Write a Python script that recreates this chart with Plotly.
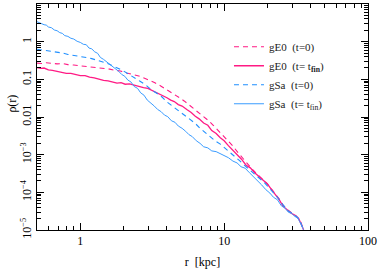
import numpy as np
import plotly.graph_objects as go

# ---- data (rho given as log10 values) ----
gsa_fin_r = [0.50,0.52,0.54,0.56,0.58,0.60,0.63,0.66,0.69,0.72,0.75,0.78,0.82,0.86,0.90,0.95,1.00,1.05,1.10,1.15,1.20,1.26,1.32,1.38,1.45,1.52,1.60,1.68,1.76,1.85,1.94,2.04,2.14,2.25,2.37,2.50,2.63,2.77,2.92,3.09,3.27,3.45,3.65,3.85,4.05,4.30,4.55,4.80,5.10,5.40,5.70,6.00,6.40,6.80,7.20,7.70,8.20,8.80,9.40,10.0,10.7,11.5,12.3,13.1,14.0,15.0,16.0,17.0,18.2,19.5,20.8,22.0,23.5,25.0,26.5,28.0,29.5,31.0,32.5,33.5,34.5,35.5,36.5]
gsa_fin_log10_rho = [0.53,0.50,0.49,0.45,0.44,0.39,0.37,0.31,0.29,0.24,0.22,0.16,0.14,0.09,0.07,0.01,-0.02,-0.07,-0.08,-0.17,-0.19,-0.27,-0.31,-0.42,-0.47,-0.53,-0.61,-0.66,-0.74,-0.79,-0.87,-0.92,-1.02,-1.07,-1.19,-1.24,-1.36,-1.42,-1.55,-1.62,-1.71,-1.80,-1.86,-1.95,-1.99,-2.10,-2.14,-2.24,-2.30,-2.38,-2.47,-2.52,-2.63,-2.70,-2.79,-2.82,-2.90,-2.92,-2.98,-3.04,-3.08,-3.17,-3.22,-3.32,-3.36,-3.48,-3.58,-3.70,-3.80,-3.93,-4.02,-4.13,-4.20,-4.36,-4.42,-4.53,-4.56,-4.64,-4.68,-4.78,-4.86,-4.98,-5.12]

ge0_fin_r = [0.50,0.53,0.56,0.60,0.64,0.69,0.74,0.80,0.86,0.92,1.00,1.08,1.16,1.25,1.35,1.45,1.56,1.68,1.80,1.92,2.05,2.20,2.37,2.55,2.75,2.95,3.10,3.30,3.50,3.75,4.00,4.25,4.50,4.80,5.10,5.50,5.90,6.30,6.70,7.20,7.70,8.20,8.80,9.40,10.0,10.7,11.5,12.3,13.2,14.2,15.2,16.3,17.5,18.7,20.0,21.3,22.7,24.2,25.6,27.0,28.5,30.0,31.6,33.0,34.2,35.3,36.5]
ge0_fin_log10_rho = [-0.69,-0.71,-0.70,-0.75,-0.76,-0.79,-0.81,-0.84,-0.84,-0.87,-0.90,-0.90,-0.94,-0.96,-1.00,-1.03,-1.04,-1.07,-1.10,-1.09,-1.13,-1.12,-1.16,-1.18,-1.22,-1.24,-1.28,-1.33,-1.37,-1.44,-1.49,-1.55,-1.59,-1.67,-1.71,-1.80,-1.88,-1.98,-2.05,-2.16,-2.22,-2.36,-2.44,-2.55,-2.63,-2.76,-2.88,-2.98,-3.12,-3.28,-3.35,-3.48,-3.58,-3.68,-3.78,-3.92,-4.05,-4.20,-4.36,-4.45,-4.52,-4.58,-4.62,-4.70,-4.82,-4.95,-5.12]

ge0_t0_r = [0.50,0.54,0.58,0.63,0.69,0.75,0.82,0.90,1.00,1.10,1.20,1.31,1.45,1.60,1.75,1.90,2.10,2.30,2.55,2.80,3.05,3.30,3.60,3.90,4.20,4.55,4.90,5.30,5.70,6.20,6.70,7.20,7.80,8.40,9.10,9.80,10.6,11.5,12.5,13.5,14.6,15.8,17.0,18.4,19.7,21.2,22.7,24.2,25.6,27.0,28.5,30.0,31.6,33.0,34.2,35.3,36.3]
ge0_t0_log10_rho = [-0.57,-0.58,-0.56,-0.58,-0.59,-0.58,-0.61,-0.62,-0.64,-0.64,-0.66,-0.68,-0.70,-0.73,-0.76,-0.78,-0.83,-0.86,-0.91,-0.97,-1.03,-1.09,-1.17,-1.25,-1.33,-1.41,-1.49,-1.58,-1.68,-1.78,-1.88,-1.99,-2.10,-2.22,-2.36,-2.48,-2.62,-2.77,-2.95,-3.10,-3.27,-3.40,-3.52,-3.64,-3.75,-3.90,-4.03,-4.18,-4.33,-4.44,-4.50,-4.57,-4.62,-4.70,-4.80,-4.94,-5.08]

gsa_t0_r = [0.50,0.54,0.58,0.63,0.69,0.75,0.82,0.90,1.00,1.10,1.20,1.31,1.42,1.55,1.70,1.85,2.00,2.20,2.40,2.60,2.85,3.10,3.40,3.70,4.00,4.30,4.65,5.00,5.40,5.85,6.30,6.80,7.40,8.00,8.70,9.40,10.2,11.0,11.8,12.8,13.8,15.0,16.3,17.6,19.0,20.5,22.0,23.5,25.0,26.5,28.0,29.5,31.0,32.5,33.8,35.0,36.0]
gsa_t0_log10_rho = [-0.20,-0.22,-0.22,-0.26,-0.28,-0.30,-0.34,-0.36,-0.39,-0.42,-0.45,-0.49,-0.53,-0.58,-0.65,-0.71,-0.78,-0.88,-0.98,-1.05,-1.15,-1.27,-1.37,-1.47,-1.60,-1.69,-1.79,-1.86,-1.96,-2.06,-2.17,-2.30,-2.42,-2.53,-2.64,-2.72,-2.83,-2.94,-3.05,-3.16,-3.28,-3.40,-3.52,-3.63,-3.74,-3.88,-4.00,-4.13,-4.28,-4.40,-4.50,-4.55,-4.61,-4.67,-4.78,-4.92,-5.05]

y_tickvals = [10, 1, 0.1, 0.01, 1e-3, 1e-4, 1e-5]
y_ticktext = ["10", "1", "0.1", "0.01", "10<sup>−3</sup>", "10<sup>−4</sup>", "10<sup>−5</sup>"]
x_tickvals = [1, 10, 100]
x_ticktext = ["1", "10", "100"]

PINK = "#ff1a84"
BLUE = "#1f8fff"
LBLUE = "#3a9cff"
FONT = "Liberation Serif"

def rho(v):
    return [10 ** x for x in v]

fig = go.Figure()
fig.add_trace(go.Scatter(x=ge0_t0_r, y=rho(ge0_t0_log10_rho), mode="lines",
                         name="gE0  (t=0)", line=dict(color=PINK, width=1.1, dash="5px,4px")))
fig.add_trace(go.Scatter(x=ge0_fin_r, y=rho(ge0_fin_log10_rho), mode="lines",
                         name="gE0  (t= t<sub><b>fin</b></sub>)", line=dict(color=PINK, width=1.3)))
fig.add_trace(go.Scatter(x=gsa_t0_r, y=rho(gsa_t0_log10_rho), mode="lines",
                         name="gSa  (t=0)", line=dict(color=BLUE, width=1.1, dash="5px,4px")))
fig.add_trace(go.Scatter(x=gsa_fin_r, y=rho(gsa_fin_log10_rho), mode="lines",
                         name="gSa  (t= t<sub>fin</sub>)", line=dict(color=LBLUE, width=1.0)))

minor_x = [m * 10 ** d for d in (-1, 0, 1) for m in range(2, 10)]
minor_y = [m * 10 ** d for d in range(-5, 1) for m in range(2, 10)]

fig.update_xaxes(type="log", range=[np.log10(0.5), 2], tickmode="array",
                 tickvals=x_tickvals, ticktext=x_ticktext,
                 ticks="inside", ticklen=7, tickwidth=1, tickcolor="black",
                 showline=True, linecolor="black", linewidth=1, mirror="allticks",
                 showgrid=False, zeroline=False,
                 minor=dict(tickmode="array", tickvals=minor_x, ticks="inside",
                            ticklen=4, tickcolor="black", showgrid=False),
                 tickfont=dict(family=FONT, size=12, color="black"),
                 title=dict(text="r  [kpc]", font=dict(family=FONT, size=12, color="black"), standoff=10))
fig.update_yaxes(type="log", range=[-5, 1], tickmode="array",
                 tickvals=y_tickvals, ticktext=y_ticktext, tickangle=-90,
                 ticks="inside", ticklen=7, tickwidth=1, tickcolor="black",
                 showline=True, linecolor="black", linewidth=1, mirror="allticks",
                 showgrid=False, zeroline=False,
                 minor=dict(tickmode="array", tickvals=minor_y, ticks="inside",
                            ticklen=4, tickcolor="black", showgrid=False),
                 tickfont=dict(family=FONT, size=12, color="black"))

fig.add_annotation(text="ρ(r)", textangle=-90, xref="paper", yref="paper",
                   x=-0.075, y=0.56, xanchor="center", yanchor="middle", showarrow=False,
                   font=dict(family=FONT, size=12, color="black"))

fig.update_layout(
    width=381, height=273,
    margin=dict(l=37, r=13, t=4, b=43),
    paper_bgcolor="white", plot_bgcolor="white",
    showlegend=True,
    legend=dict(x=0.58, y=0.875, xanchor="left", yanchor="top",
                bgcolor="rgba(0,0,0,0)", borderwidth=0,
                font=dict(family=FONT, size=11, color="#222"),
                itemwidth=30, tracegroupgap=0),
)

fig.write_html("out.html", config={"displayModeBar": False},
               post_script="document.body.style.margin='0';")
